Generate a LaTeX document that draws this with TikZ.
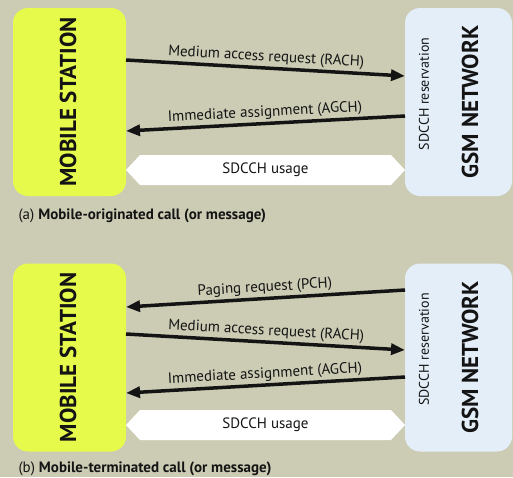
\documentclass[tikz,border=0pt]{standalone}
\usepackage{fontspec}
\setmainfont{PT Sans}
\usetikzlibrary{arrows.meta,shapes.arrows}
\definecolor{bgcol}{RGB}{204,204,181}
\definecolor{mscol}{RGB}{230,250,75}
\definecolor{netcol}{RGB}{228,238,248}
\definecolor{ink}{RGB}{20,20,20}
\tikzset{
  msbox/.style={fill=mscol, rounded corners=15pt, minimum width=113pt, minimum height=188pt, inner sep=0pt},
  netbox/.style={fill=netcol, rounded corners=15pt, minimum width=107pt, minimum height=188pt, inner sep=0pt},
  boxtitle/.style={rotate=90, font=\fontsize{23}{25}\selectfont\bfseries, text=ink},
  restitle/.style={rotate=90, font=\fontsize{14}{16}\selectfont, text=ink},
  msg/.style={draw=ink, line width=3.5pt, -{Triangle[length=14pt,width=11pt]}},
  msglabel/.style={sloped, above, font=\fontsize{15}{17}\selectfont, text=ink, inner sep=2pt},
  usage/.style={shape=double arrow, fill=white, double arrow head extend=0pt,
    double arrow tip angle=94, minimum width=30pt, minimum height=279pt, inner sep=0pt,
    font=\fontsize{15}{17}\selectfont, text=ink},
  caption/.style={anchor=west, font=\fontsize{15}{17}\selectfont, text=ink}
}
\begin{document}
\begin{tikzpicture}[x=1pt,y=-1pt]
  \fill[bgcol] (0,0) rectangle (513,477);
  \useasboundingbox (0,0) rectangle (513,477);

  % (a) mobile-originated call
  \node[msbox] (msA) at (69.5,102) {};
  \node[boxtitle] (msAt) at (68,102) {MOBILE STATION};
  \node[netbox] (netA) at (458.5,102) {};
  \node[restitle] (resA) at (424,94) {SDCCH reservation};
  \node[boxtitle] (netAt) at (470,102) {GSM NETWORK};

  \coordinate (a1s) at (126,60);
  \coordinate (a1e) at (405,76);
  \coordinate (a2s) at (405,116);
  \coordinate (a2e) at (126,131);
  \draw[msg] (a1s) -- node[msglabel] (la1) {Medium access request (RACH)} (a1e);
  \draw[msg] (a2s) -- node[msglabel] (la2) {Immediate assignment (AGCH)} (a2e);
  \node[usage] (useA) at (265.5,170) {SDCCH usage};
  \node[caption] (capA) at (15,216) {(a) \textbf{Mobile-originated call (or message)}};

  % (b) mobile-terminated call
  \node[msbox] (msB) at (69.5,357.5) {};
  \node[boxtitle] (msBt) at (68,357.5) {MOBILE STATION};
  \node[netbox] (netB) at (458.5,357.5) {};
  \node[restitle] (resB) at (424,349.5) {SDCCH reservation};
  \node[boxtitle] (netBt) at (470,357.5) {GSM NETWORK};

  \coordinate (b1s) at (405,290);
  \coordinate (b1e) at (126,307);
  \coordinate (b2s) at (126,334);
  \coordinate (b2e) at (405,350);
  \coordinate (b3s) at (405,377);
  \coordinate (b3e) at (126,393);
  \draw[msg] (b1s) -- node[msglabel] (lb1) {Paging request (PCH)} (b1e);
  \draw[msg] (b2s) -- node[msglabel] (lb2) {Medium access request (RACH)} (b2e);
  \draw[msg] (b3s) -- node[msglabel] (lb3) {Immediate assignment (AGCH)} (b3e);
  \node[usage] (useB) at (265.5,425) {SDCCH usage};
  \node[caption] (capB) at (15,468.5) {(b) \textbf{Mobile-terminated call (or message)}};
\end{tikzpicture}
\end{document}
